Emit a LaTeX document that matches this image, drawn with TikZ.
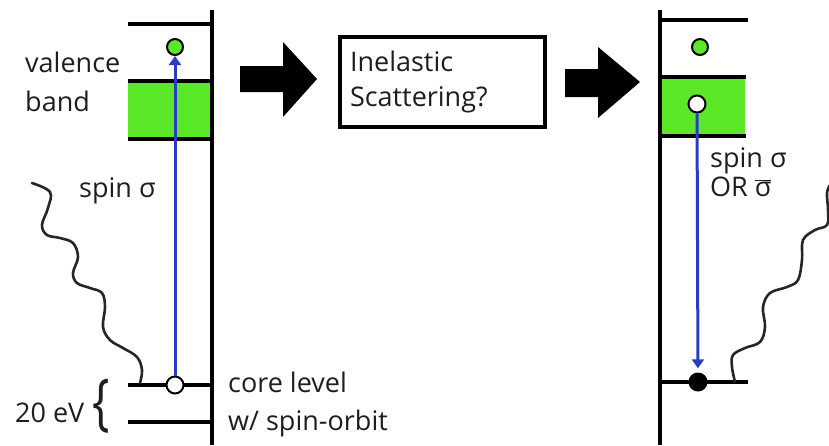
\documentclass[tikz,border=0pt]{standalone}
\usepackage{fontspec}
\setmainfont{Open Sans}
\usetikzlibrary{arrows.meta}
\definecolor{bandgreen}{RGB}{90,232,40}
\definecolor{arrowblue}{RGB}{40,60,200}
\definecolor{txt}{RGB}{30,30,30}
\begin{document}
\begin{tikzpicture}[x=1pt,y=-1pt,
  level/.style={line width=4.5pt},
  lbl/.style={anchor=base west, inner sep=0pt, text=txt, font=\fontsize{27}{32}\selectfont},
  gdot/.style={circle, draw=black, fill=bandgreen, line width=2pt, minimum size=16pt, inner sep=0pt},
  odot/.style={circle, draw=black, fill=white, line width=2pt, minimum size=17pt, inner sep=0pt},
  bdot/.style={circle, fill=black, minimum size=19pt, inner sep=0pt},
  trans/.style={draw=arrowblue, line width=3pt, -{Triangle[width=12pt,length=9pt]}},
  wave/.style={draw=black!85, line width=2.6pt, line cap=round},
  blockarrow/.style={fill=black},
  qbox/.style={draw=black, line width=4.5pt, minimum width=205pt, minimum height=90pt,
     text width=185pt, align=left, inner sep=0pt, text=txt, font=\fontsize{27}{35}\selectfont}
]
\useasboundingbox (0,0) rectangle (829,445);
% ---------- left panel ----------
\fill[bandgreen] (128,81) rectangle (210,139);
\draw[level] (212,10) -- (212,445);
\draw[level] (128,24) -- (212,24);
\draw[level] (128,81) -- (212,81);
\draw[level] (128,139) -- (212,139);
\draw[level] (128,385) -- (212,385);
\draw[level] (128,422) -- (212,422);
\node[gdot] (gL) at (175,47) {};
\node[odot] (cL) at (175,385) {};
\draw[trans] (cL) -- (gL);
\draw[wave] plot[smooth, tension=0.6] coordinates {(32,183) (50,192) (48,208) (42,225) (47,235) (60,238) (73,243) (78,257) (73,273) (77,283) (90,288) (102,293) (105,307) (103,327) (110,340) (123,348) (137,357) (142,370) (140,383)};
\node[lbl] (valence) at (25,72) {valence};
\node[lbl] (band) at (25,111) {band};
\node[lbl] (spinL) at (79,197) {spin σ};
\node[lbl] (ev) at (15,422) {20 eV};
\node[inner sep=0pt, text=txt, font=\fontsize{40}{40}\selectfont] (brace) at (101,406) {\scalebox{1.15}[1.55]{\{}};
\node[lbl] (core) at (228,392) {core level};
\node[lbl] (so) at (228,430) {w/ spin-orbit};
% ---------- middle ----------
\fill[blockarrow] (240,66) -- (283,66) -- (283,42) -- (317,79) -- (283,117) -- (283,92) -- (240,92) -- cycle;
\node[qbox] (box) at (442.5,82) {Inelastic\\Scattering?};
\fill[blockarrow] (565,69) -- (598,69) -- (598,47) -- (640,82) -- (598,118) -- (598,97) -- (565,97) -- cycle;
% ---------- right panel ----------
\fill[bandgreen] (660,77) rectangle (745,136);
\draw[level] (660,10) -- (660,445);
\draw[level] (660,20) -- (748,20);
\draw[level] (660,77) -- (746,77);
\draw[level] (660,136) -- (746,136);
\draw[level] (660,382) -- (748,382);
\node[gdot] (gR) at (700,47) {};
\node[odot] (oR) at (697,104) {};
\node[bdot] (bR) at (698,382) {};
\draw[trans, shorten >=4pt] (oR) -- (bR);
\draw[wave] plot[smooth, tension=0.6] coordinates {(735,382) (732,367) (733,355) (745,348) (760,342) (765,327) (763,307) (770,293) (787,287) (798,280) (802,260) (803,240) (815,230) (827,225) (828,210) (827,193) (830,185)};
\node[lbl] (spinR) at (710,167) {spin σ};
\node[lbl] (orR) at (710,196) {OR $\overline{\hbox{σ}}$};
\end{tikzpicture}
\end{document}
